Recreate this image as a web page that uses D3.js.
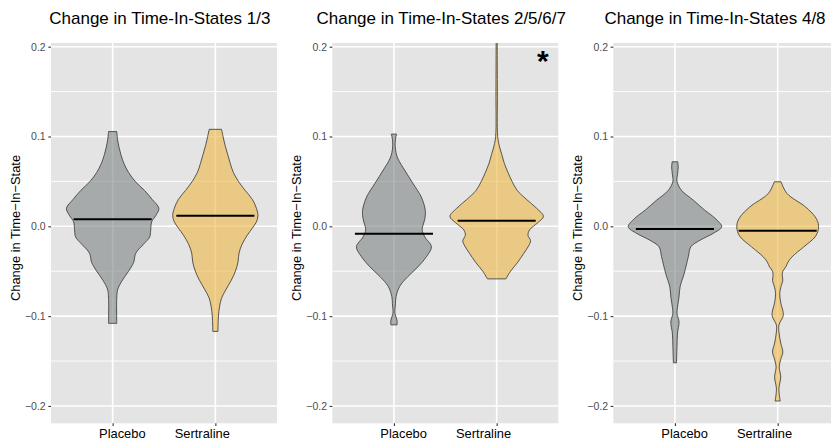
<!DOCTYPE html>
<html lang="en">
<head>
    <meta charset="UTF-8">
    <title>Change in Time-In-States</title>
    <script src="https://d3js.org/d3.v7.min.js"></script>
    <style>
body {
    margin: 0;
    background: #fff;
    font-family: "Liberation Sans", Arial, sans-serif;
}
svg {
    display: block;
}
    </style>
</head>
<body>
    <svg id="chart" width="831" height="440"></svg>

    <script>
// groups and panel titles
const groups = ["Placebo", "Sertraline"];
const panelTitles = ["Change in Time-In-States 1/3", "Change in Time-In-States 2/5/6/7", "Change in Time-In-States 4/8"];
const yTicks = [-0.2, -0.1, 0.0, 0.1, 0.2];
const minorTicks = [-0.15, -0.05, 0.05, 0.15];

// violin outlines: [value, half width in % of category step]
const p1Placebo = [[0.1055,4],[0.095,5],[0.08,8],[0.07,11],[0.06,15.5],[0.05,22],[0.04,31],[0.03,38.5],[0.02,45],[0.012,42],[0.005,38],[-0.005,37],[-0.012,36],[-0.02,30],[-0.03,22.5],[-0.04,20.5],[-0.05,15.5],[-0.06,9.5],[-0.07,5],[-0.08,4],[-0.108,4]];
const p1Sertraline = [[0.108,6],[0.1,7.5],[0.09,9.5],[0.08,12],[0.07,14.5],[0.06,17.5],[0.05,22.5],[0.04,29],[0.03,36],[0.02,40],[0.012,41.5],[0.005,40],[-0.002,36],[-0.01,31],[-0.02,26],[-0.03,23],[-0.04,22],[-0.05,19.5],[-0.06,15.5],[-0.07,10.5],[-0.08,6],[-0.09,4],[-0.1,3],[-0.117,2.5]];
const p2Placebo = [[0.1027,2.5],[0.097,1.5],[0.09,1.2],[0.082,2],[0.075,4],[0.0626,10.4],[0.0478,18.5],[0.0329,26.5],[0.018,30.5],[0.008,30],[0.0,28],[-0.0042,27.5],[-0.0117,30],[-0.0228,36.5],[-0.034,31.5],[-0.045,23.5],[-0.056,13.5],[-0.067,5.5],[-0.0785,2],[-0.086,1.5],[-0.097,1],[-0.1045,3],[-0.1097,3]];
const p2Sertraline = [[0.215,0.5],[0.15,0.7],[0.1,1],[0.09,2.5],[0.08,5],[0.07,7.5],[0.06,11],[0.05,15],[0.04,20],[0.03,29],[0.02,39],[0.011,45.5],[0.004,40],[-0.004,32],[-0.01,30.5],[-0.016,33],[-0.022,31],[-0.03,26.5],[-0.04,20.5],[-0.05,13.5],[-0.0585,9]];
const p3Placebo = [[0.0719,2.7],[0.066,3.2],[0.058,2.5],[0.05,2],[0.04,6.5],[0.029,18],[0.018,29],[0.009,39],[-0.0005,45.5],[-0.008,37],[-0.0154,24.5],[-0.0228,15.5],[-0.034,13],[-0.0525,9],[-0.0674,5],[-0.0785,4],[-0.09,2.5],[-0.097,2],[-0.1064,4],[-0.119,2.5],[-0.134,2],[-0.152,1.5]];
const p3Sertraline = [[0.0496,3.3],[0.0367,9],[0.0217,27],[0.0106,36.5],[0.0032,39.5],[-0.004,39.5],[-0.0117,36.5],[-0.0228,25.5],[-0.034,14],[-0.04,10],[-0.045,8],[-0.05,5],[-0.055,4.5],[-0.06,5],[-0.068,3],[-0.075,2],[-0.085,3],[-0.099,5.5],[-0.11,1.2],[-0.12,1.5],[-0.13,3],[-0.14,5],[-0.148,3],[-0.1565,1.5],[-0.1677,3],[-0.181,1.2],[-0.1945,2.5]];

// medians per panel [Placebo, Sertraline]
const medians1 = [0.008, 0.0117];
const medians2 = [-0.0083, 0.0061];
const medians3 = [-0.0031, -0.005];

const panels = [
    { title: panelTitles[0], violins: [p1Placebo, p1Sertraline], medians: medians1 },
    { title: panelTitles[1], violins: [p2Placebo, p2Sertraline], medians: medians2, star: true },
    { title: panelTitles[2], violins: [p3Placebo, p3Sertraline], medians: medians3 }
];

// layout
const panelLefts = [51, 332.3, 613.3];
const titleCenters = [159.8, 441.2, 715];
const panelW = 226, panelTop = 43, panelBottom = 423.3;
const fills = ["#7F8385", "#ECB742"];
const labelShift = [9.2, -13.6];

const svg = d3.select("#chart");

const y = d3.scaleLinear().domain([-0.2193, 0.2041]).range([panelBottom, panelTop]);

panels.forEach((p, i) => {
    const left = panelLefts[i];
    const x = d3.scalePoint().domain(groups).range([left, left + panelW]).padding(0.6);
    const w = d3.scaleLinear().domain([0, 100]).range([0, x.step()]);

    const g = svg.append("g");

    g.append("clipPath").attr("id", "clip" + i)
        .append("rect").attr("x", left).attr("y", panelTop).attr("width", panelW).attr("height", panelBottom - panelTop);

    g.append("rect")
        .attr("x", left).attr("y", panelTop)
        .attr("width", panelW).attr("height", panelBottom - panelTop)
        .attr("fill", "#E4E4E4");

    g.selectAll(".minor").data(minorTicks).join("line")
        .attr("x1", left).attr("x2", left + panelW)
        .attr("y1", d => y(d)).attr("y2", d => y(d))
        .attr("stroke", "#fff").attr("stroke-width", 0.9);

    g.selectAll(".major").data(yTicks).join("line")
        .attr("x1", left).attr("x2", left + panelW)
        .attr("y1", d => y(d)).attr("y2", d => y(d))
        .attr("stroke", "#fff").attr("stroke-width", 1.6);

    g.selectAll(".vmajor").data(groups).join("line")
        .attr("x1", d => x(d)).attr("x2", d => x(d))
        .attr("y1", panelTop).attr("y2", panelBottom)
        .attr("stroke", "#fff").attr("stroke-width", 1.6);

    const plot = g.append("g").attr("clip-path", `url(#clip${i})`);

    p.violins.forEach((v, j) => {
        const cx = x(groups[j]);
        const area = d3.area()
            .y(d => y(d[0]))
            .x0(d => cx - w(d[1]))
            .x1(d => cx + w(d[1]))
            .curve(d3.curveCatmullRom);
        plot.append("path")
            .datum(v)
            .attr("d", area)
            .attr("fill", fills[j])
            .attr("fill-opacity", 0.6)
            .attr("stroke", "#333")
            .attr("stroke-width", 0.8);
    });

    plot.selectAll(".median").data(p.medians).join("line")
        .attr("x1", (d, j) => x(groups[j]) - w(38))
        .attr("x2", (d, j) => x(groups[j]) + w(38))
        .attr("y1", d => y(d)).attr("y2", d => y(d))
        .attr("stroke", "#000").attr("stroke-width", 2);

    // y axis
    const ya = g.append("g")
        .attr("transform", `translate(${left},0)`)
        .call(d3.axisLeft(y).tickValues(yTicks).tickFormat(d3.format(".1f")).tickSize(2.7).tickPadding(2.6));
    ya.select(".domain").remove();
    ya.selectAll("line").attr("stroke", "#333").attr("stroke-width", 1.1);
    ya.selectAll("text").attr("fill", "#4D4D4D").style("font-size", "10.5px").style("font-family", "Liberation Sans, Arial, sans-serif");

    // x axis
    const xa = g.append("g")
        .attr("transform", `translate(0,${panelBottom})`)
        .call(d3.axisBottom(x).tickSize(2.7));
    xa.select(".domain").remove();
    xa.selectAll("line").attr("stroke", "#333").attr("stroke-width", 1.1);
    xa.selectAll("text")
        .attr("y", 15).attr("dy", null)
        .attr("dx", (d, j) => labelShift[j])
        .attr("fill", "#000").style("font-size", "12.9px").style("font-family", "Liberation Sans, Arial, sans-serif");

    // axis title
    g.append("text")
        .attr("transform", `translate(${left - 31},228) rotate(-90)`)
        .attr("text-anchor", "middle")
        .style("font-size", "12.9px")
        .text("Change in Time\u2212In\u2212State");

    // panel title
    g.append("text")
        .attr("x", titleCenters[i]).attr("y", 24)
        .attr("text-anchor", "middle")
        .style("font-size", "17px")
        .text(p.title);

    if (p.star) {
        g.append("text")
            .attr("x", left + panelW - 15.5).attr("y", 70.5)
            .attr("text-anchor", "middle")
            .style("font-size", "30px").style("font-weight", "bold")
            .text("*");
    }
});
    </script>
</body>
</html>
